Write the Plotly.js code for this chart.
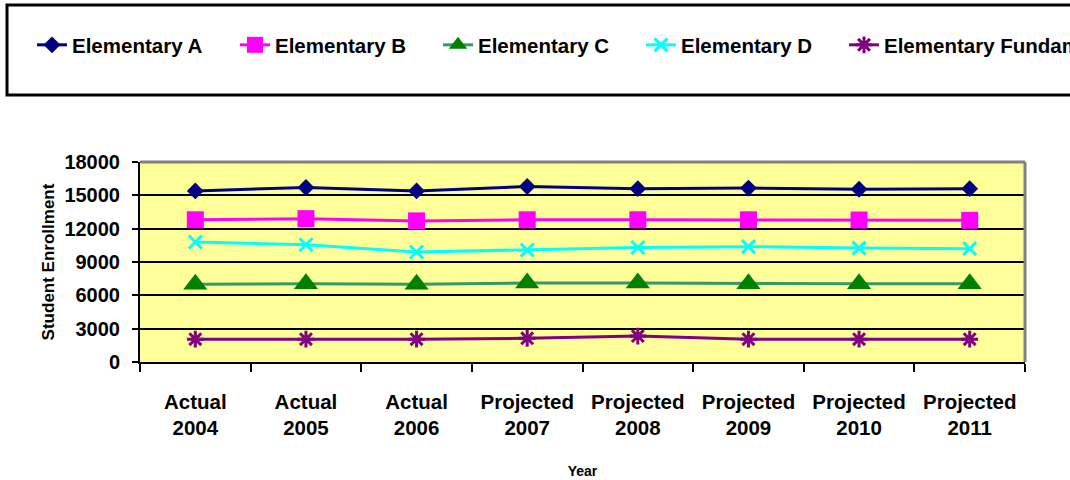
<!DOCTYPE html>
<html>
<head>
<meta charset="utf-8">
<script src="https://cdn.plot.ly/plotly-3.0.1.min.js"></script>
<style>
  html, body { margin: 0; padding: 0; width: 1070px; height: 480px; overflow: hidden; background: #fff; }
  #chart { width: 1300px; height: 480px; }
  /* let the last legend entry run off the page edge instead of being cut by the legend box */
  #chart .legend .scrollbox { clip-path: none !important; }
</style>
</head>
<body>
<div id="chart"></div>
<script>
// School years on the category axis (actual and projected)
const years = [
  "Actual<br>2004", "Actual<br>2005", "Actual<br>2006", "Projected<br>2007",
  "Projected<br>2008", "Projected<br>2009", "Projected<br>2010", "Projected<br>2011"
];

// Student enrollment per school
const elementaryA = [15400, 15700, 15400, 15800, 15600, 15650, 15550, 15600];
const elementaryB = [12800, 12900, 12700, 12800, 12800, 12800, 12780, 12750];
const elementaryC = [7000, 7050, 7000, 7100, 7100, 7050, 7050, 7050];
const elementaryD = [10800, 10550, 9900, 10080, 10300, 10380, 10250, 10200];
const elementaryFundamental = [2050, 2050, 2050, 2130, 2330, 2050, 2050, 2050];

const seriesNames = ["Elementary A", "Elementary B", "Elementary C", "Elementary D", "Elementary Fundamental"];

const FONT = "Liberation Sans, Arial, Helvetica, sans-serif";

// plot area in pixels: left 140, right 1025, top 162, bottom 362
const PLOT_L = 140, PLOT_W = 885, PLOT_T = 162, PLOT_H = 200;
const px2x = p => (p - PLOT_L) / PLOT_W;
const px2y = p => (PLOT_T + PLOT_H - p) / PLOT_H;

const traces = [
  {
    name: seriesNames[0], x: years, y: elementaryA, type: "scatter", mode: "lines+markers",
    line: { color: "#000080", width: 3 },
    marker: { symbol: "diamond", size: 13, color: "#000080" }
  },
  {
    name: seriesNames[1], x: years, y: elementaryB, type: "scatter", mode: "lines+markers",
    line: { color: "#FF00FF", width: 3 },
    marker: { symbol: "square", size: 17, color: "#FF00FF" }
  },
  {
    name: seriesNames[2], x: years, y: elementaryC, type: "scatter", mode: "lines+markers",
    line: { color: "#339966", width: 3 },
    marker: { symbol: "triangle-up", size: 21, color: "#008000" }
  },
  {
    name: seriesNames[3], x: years, y: elementaryD, type: "scatter", mode: "lines+markers",
    line: { color: "#00FFFF", width: 3 },
    marker: { symbol: "x-thin-open", size: 13, color: "#00FFFF", line: { color: "#00FFFF", width: 3 } }
  },
  {
    name: seriesNames[4], x: years, y: elementaryFundamental, type: "scatter", mode: "lines+markers",
    line: { color: "#800080", width: 3 },
    marker: { symbol: "asterisk-open", size: 14, color: "#800080", line: { color: "#800080", width: 3 } }
  }
];

const layout = {
  width: 1300,
  height: 480,
  margin: { l: 140, r: 275, t: 162, b: 118, autoexpand: false },
  paper_bgcolor: "#FFFFFF",
  plot_bgcolor: "#FFFF99",
  font: { family: FONT, color: "#000000", size: 20, weight: "bold" },
  showlegend: true,
  legend: {
    orientation: "h",
    xref: "paper", yref: "paper",
    x: px2x(32), xanchor: "left",
    y: px2y(45), yanchor: "middle",
    font: { family: FONT, size: 20.5, weight: "bold", color: "#000" },
    entrywidth: 158,
    entrywidthmode: "pixels",
    bgcolor: "rgba(0,0,0,0)",
    borderwidth: 0
  },
  xaxis: {
    type: "category",
    range: [-0.5, 7.5],
    tickson: "boundaries",
    ticks: "outside", ticklen: 8, tickwidth: 2, tickcolor: "#000",
    showline: true, linecolor: "#000", linewidth: 2,
    showgrid: false, zeroline: false,
    tickfont: { family: FONT, size: 20.5, weight: "bold" },
    ticklabelstandoff: 20,
    title: { text: "Year", font: { family: FONT, size: 14, weight: "bold" }, standoff: 28 }
  },
  yaxis: {
    range: [0, 18000],
    dtick: 3000,
    tickformat: "d",
    ticks: "outside", ticklen: 6, tickwidth: 2, tickcolor: "#000",
    showline: true, linecolor: "#000", linewidth: 2,
    showgrid: true, gridcolor: "#000", gridwidth: 2,
    zeroline: false,
    tickfont: { family: FONT, size: 20, weight: "bold" },
    ticklabelstandoff: 8,
    title: { text: "Student Enrollment", font: { family: FONT, size: 17, weight: "bold" }, standoff: 5 }
  },
  shapes: [
    // plot area frame: gray top and right edges
    { type: "line", xref: "paper", yref: "paper", x0: 0, x1: 1, y0: 1, y1: 1,
      line: { color: "#808080", width: 3 }, layer: "above" },
    { type: "line", xref: "paper", yref: "paper", x0: 1, x1: 1, y0: 0, y1: 1,
      line: { color: "#808080", width: 3 }, layer: "above" },
    // legend frame
    { type: "rect", xref: "paper", yref: "paper",
      x0: px2x(7), x1: px2x(1120), y0: px2y(95), y1: px2y(5),
      line: { color: "#000", width: 3 }, fillcolor: "rgba(0,0,0,0)", layer: "above" }
  ]
};

Plotly.newPlot("chart", traces, layout, { displayModeBar: false, staticPlot: true });
</script>
</body>
</html>
